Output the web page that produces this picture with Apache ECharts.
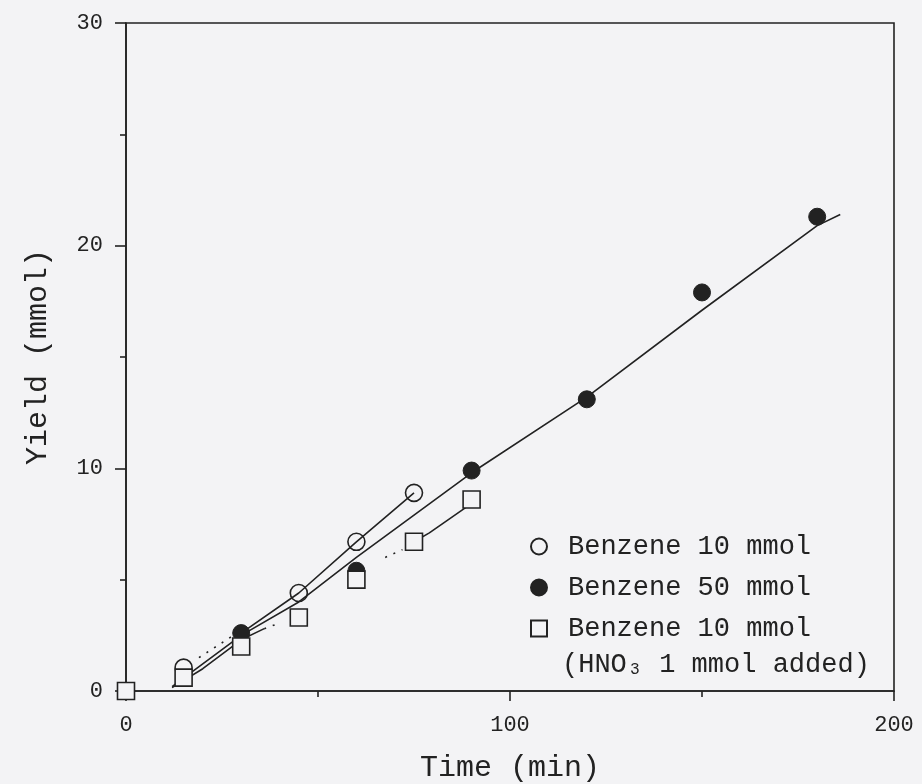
<!DOCTYPE html>
<html>
<head>
<meta charset="utf-8">
<script src="https://cdn.jsdelivr.net/npm/echarts@6/dist/echarts.min.js"></script>
<style>
html,body{margin:0;padding:0;background:#f3f3f5;}
#chart{width:922px;height:784px;}
</style>
</head>
<body>
<div id="chart"></div>
<script>
// Series names
const seriesNames = ['Benzene 10 mmol', 'Benzene 50 mmol', 'Benzene 10 mmol ', '(HNO\u2083 1 mmol added)'];
// Data points [time (min), yield (mmol)]
const openCircle = [[15, 1.05], [45, 4.4], [60, 6.7], [75, 8.9]];
const filledCircle = [[30, 2.6], [60, 5.4], [90, 9.9], [120, 13.1], [150, 17.9], [180, 21.3]];
const openSquare = [[0, 0], [15, 0.6], [30, 2.0], [45, 3.3], [60, 5.0], [75, 6.7], [90, 8.6]];
// Hand-drawn fit lines
const fitFilled = [[12, 0.2], [30, 2.5], [45, 4.0], [60, 6.0], [90, 9.8], [120, 13.2], [150, 17.1], [180, 20.9], [186, 21.4]];
const fitOpen = [[30, 2.6], [45, 4.4], [60, 6.7], [75, 8.9]];
const fitOpenDotted = [[19, 1.5], [28, 2.5]];
const fitSquareA = [[12, 0.15], [20, 1.0], [30, 2.3], [36, 2.8]];
const fitSquareADotted = [[36, 2.8], [40, 3.05]];
const fitSquareBDotted = [[67.5, 6.0], [72, 6.35]];
const fitSquareB = [[75, 6.7], [79, 7.1], [89, 8.3], [90, 8.6]];
// Axis ticks
const xTicks = [0, 100, 200];
const yTicks = [0, 10, 20, 30];

const ink = '#222';
const bg = '#f3f3f5';
const mono = '"Liberation Mono", monospace';

function fitLine(data, dotted) {
  return {
    type: 'line', data: data, symbol: 'none', silent: true, z: 2,
    lineStyle: { color: ink, width: 1.6, type: dotted ? [2, 7] : 'solid' }
  };
}

const chart = echarts.init(document.getElementById('chart'), null, { renderer: 'canvas' });
chart.setOption({
  backgroundColor: bg,
  animation: false,
  grid: { left: 126, right: 28, top: 23, bottom: 93, outerBoundsMode: 'none', containLabel: false, show: true, borderColor: ink, borderWidth: 1.6, backgroundColor: 'transparent' },
  xAxis: {
    type: 'value', min: xTicks[0], max: xTicks[xTicks.length - 1], interval: 100,
    name: 'Time (min)', nameLocation: 'middle', nameGap: 62,
    nameTextStyle: { fontFamily: mono, fontSize: 30, color: ink },
    axisLine: { lineStyle: { color: ink, width: 1.6 } },
    axisTick: { show: true, inside: false, length: 10, lineStyle: { color: ink, width: 1.6 } },
    minorTick: { show: true, splitNumber: 2, length: 6, lineStyle: { color: ink, width: 1.6 } },
    splitLine: { show: false },
    axisLabel: { fontFamily: mono, fontSize: 22, color: ink, margin: 23 }
  },
  yAxis: {
    type: 'value', min: yTicks[0], max: yTicks[yTicks.length - 1], interval: 10,
    name: 'Yield (mmol)', nameLocation: 'middle', nameGap: 73,
    nameTextStyle: { fontFamily: mono, fontSize: 30, color: ink },
    axisLine: { show: true, lineStyle: { color: ink, width: 1.6 } },
    axisTick: { show: true, inside: false, length: 11, lineStyle: { color: ink, width: 1.6 } },
    minorTick: { show: true, splitNumber: 2, length: 6, lineStyle: { color: ink, width: 1.6 } },
    splitLine: { show: false },
    axisLabel: { fontFamily: mono, fontSize: 22, color: ink, margin: 23 }
  },
  legend: {
    orient: 'vertical', left: 525, top: 528,
    itemWidth: 16, itemHeight: 16, itemGap: 14,
    textStyle: { fontFamily: mono, fontSize: 27, color: ink, padding: [0, 0, 0, 16] },
    data: [seriesNames[0], seriesNames[1], seriesNames[2]]
  },
  graphic: [{
    type: 'text', left: 562, top: 651,
    style: { text: seriesNames[3], fontFamily: mono, fontSize: 27, fill: ink }
  }],
  series: [
    fitLine(fitFilled, false),
    fitLine(fitOpen, false),
    fitLine(fitOpenDotted, true),
    fitLine(fitSquareA, false),
    fitLine(fitSquareADotted, true),
    fitLine(fitSquareBDotted, true),
    fitLine(fitSquareB, false),
    {
      name: seriesNames[1], type: 'scatter', data: filledCircle, symbol: 'circle', symbolSize: 17, clip: false, z: 3,
      itemStyle: { color: ink, borderColor: ink, borderWidth: 1, opacity: 1 }
    },
    {
      name: seriesNames[0], type: 'scatter', data: openCircle, symbol: 'circle', symbolSize: 17, clip: false, z: 4,
      itemStyle: { color: 'rgba(0,0,0,0)', borderColor: ink, borderWidth: 1.6, opacity: 1 }
    },
    {
      name: seriesNames[2], type: 'scatter', data: openSquare, symbol: 'rect', symbolSize: 17, clip: false, z: 5,
      itemStyle: { color: bg, borderColor: ink, borderWidth: 1.6, opacity: 1 }
    }
  ]
});
</script>
</body>
</html>
